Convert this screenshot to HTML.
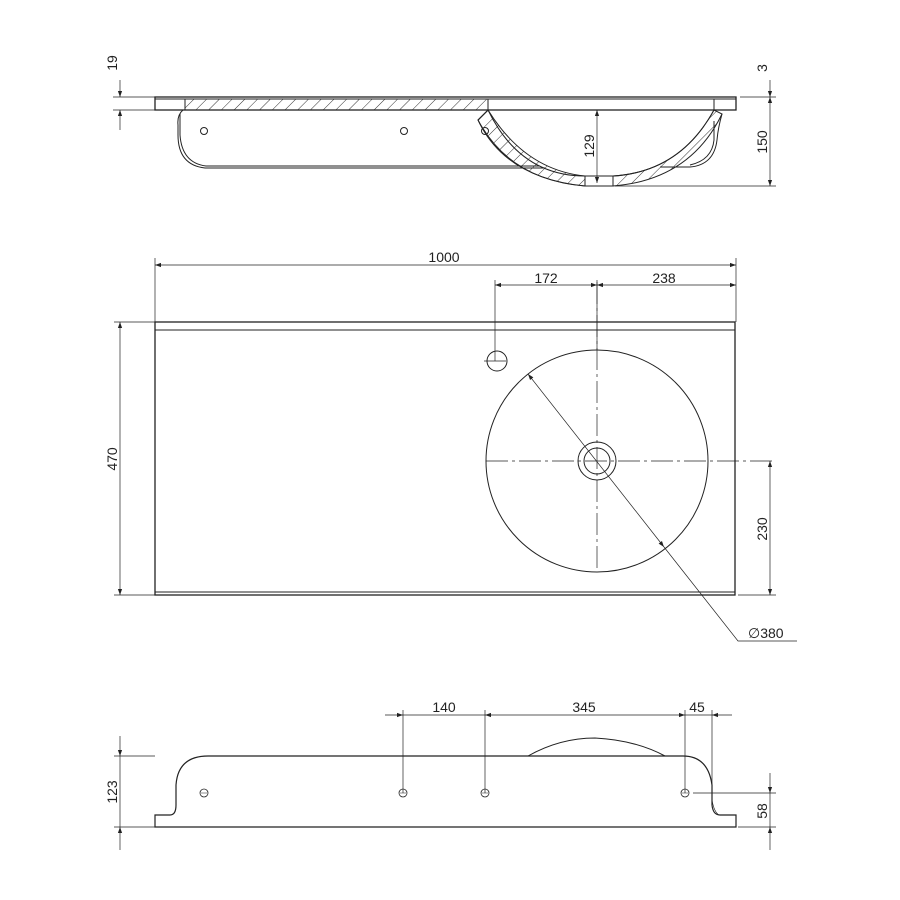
<!DOCTYPE html>
<html><head><meta charset="utf-8"><style>
html,body{margin:0;padding:0;background:#fff}
svg{display:block}
text{font-family:"Liberation Sans","DejaVu Sans",sans-serif;font-size:14px;fill:#222}
</style></head><body>
<svg width="900" height="900" viewBox="0 0 900 900" xmlns="http://www.w3.org/2000/svg">
<defs>
<marker id="a" viewBox="0 0 10 10" refX="10" refY="5" markerWidth="9" markerHeight="6" orient="auto-start-reverse" markerUnits="userSpaceOnUse"><path d="M0,1.5 L10,5 L0,8.5 z" fill="#222"/></marker>
<pattern id="h" width="9" height="9" patternUnits="userSpaceOnUse" patternTransform="rotate(45)"><line x1="0" y1="0" x2="0" y2="9" stroke="#333" stroke-width="1"/></pattern>
</defs>
<g stroke="#222" fill="none" stroke-width="1">
<!-- TOP SECTION VIEW -->
<rect x="155" y="97" width="581" height="13" stroke-width="1.3"/>
<line x1="155" y1="99" x2="736" y2="99"/>
<path d="M185,99 H488 V110 L476,110 L468,110 H185 Z" fill="url(#h)"/>
<line x1="185" y1="99" x2="185" y2="110"/>
<line x1="488" y1="99" x2="488" y2="110"/>
<line x1="714" y1="99" x2="714" y2="110"/>
<!-- bowl section -->
<path d="M488,110 L478,120 Q510,180 585,186" fill="none"/>
<path d="M478,120 Q505,178 585,186 L585,176 Q525,170 488,110 Z" fill="url(#h)"/>
<path d="M613,186 Q690,180 722,114 L714,110 Q680,172 613,176 Z" fill="url(#h)"/>
<rect x="585" y="176" width="28" height="10"/>
<path d="M488,110 Q520,176 585,176"/>
<path d="M613,176 Q680,172 714,110"/>
<!-- skirts -->
<path d="M183,110 Q177,115 178,125 V135 Q178,165 205,168 H545"/>
<path d="M180,114 V135 Q182,163 206,166 H540"/>
<path d="M722,114 Q718,128 717,140 Q714,165 690,167 H660"/>
<path d="M714,121 V140 Q712,160 690,165"/>
<circle cx="204" cy="131" r="3.5"/><circle cx="404" cy="131" r="3.5"/><circle cx="485" cy="131" r="3.5"/>
<!-- top dims -->
<line x1="113" y1="97" x2="155" y2="97" stroke-width="0.7"/>
<line x1="113" y1="110" x2="155" y2="110" stroke-width="0.7"/>
<line x1="120" y1="80" x2="120" y2="97" marker-end="url(#a)" stroke-width="0.7"/>
<line x1="120" y1="130" x2="120" y2="110" marker-end="url(#a)" stroke-width="0.7"/>
<line x1="740" y1="97" x2="776" y2="97" stroke-width="0.7"/>
<line x1="615" y1="186" x2="776" y2="186" stroke-width="0.7"/>
<line x1="770" y1="80" x2="770" y2="97" marker-end="url(#a)" stroke-width="0.7"/>
<line x1="770" y1="97" x2="770" y2="186" marker-start="url(#a)" marker-end="url(#a)" stroke-width="0.7"/>
<line x1="597" y1="110" x2="597" y2="183" marker-start="url(#a)" marker-end="url(#a)" stroke-width="0.7"/>

<!-- PLAN VIEW -->
<rect x="155" y="322" width="580" height="273" stroke-width="1.3"/>
<line x1="155" y1="330" x2="735" y2="330"/>
<line x1="155" y1="592" x2="735" y2="592"/>
<circle cx="597" cy="461" r="111"/>
<circle cx="597" cy="461" r="19"/>
<circle cx="597" cy="461" r="13"/>
<circle cx="497" cy="361" r="10"/>
<g stroke-dasharray="22,4,3,4" stroke-width="0.7">
<line x1="486" y1="461" x2="775" y2="461"/>
<line x1="597" y1="282" x2="597" y2="572"/>
<line x1="484" y1="361" x2="510" y2="361"/>
</g>
<line x1="495" y1="280" x2="495" y2="361" stroke-width="0.7"/>
<line x1="597" y1="280" x2="597" y2="350" stroke-width="0.7"/>
<line x1="155" y1="258" x2="155" y2="322" stroke-width="0.7"/>
<line x1="736" y1="258" x2="736" y2="322" stroke-width="0.7"/>
<line x1="155" y1="265" x2="736" y2="265" marker-start="url(#a)" marker-end="url(#a)" stroke-width="0.7"/>
<line x1="495" y1="285" x2="597" y2="285" marker-start="url(#a)" marker-end="url(#a)" stroke-width="0.7"/>
<line x1="597" y1="285" x2="736" y2="285" marker-start="url(#a)" marker-end="url(#a)" stroke-width="0.7"/>
<line x1="114" y1="322" x2="155" y2="322" stroke-width="0.7"/>
<line x1="114" y1="595" x2="155" y2="595" stroke-width="0.7"/>
<line x1="120" y1="322" x2="120" y2="595" marker-start="url(#a)" marker-end="url(#a)" stroke-width="0.7"/>
<line x1="738" y1="595" x2="776" y2="595" stroke-width="0.7"/>
<line x1="770" y1="461" x2="770" y2="595" marker-start="url(#a)" marker-end="url(#a)" stroke-width="0.7"/>
<line x1="528" y1="374" x2="664" y2="547" marker-start="url(#a)" marker-end="url(#a)" stroke-width="0.7"/>
<polyline points="664,547 738,641 797,641" stroke-width="0.7"/>

<!-- FRONT VIEW -->
<path d="M155,827 V815 H170 Q176,815 176,805 V785 Q178,756 208,756 H683 Q708,756 712,785 V805 Q713,815 720,815 H736 V827 Z" stroke-width="1.2"/>
<path d="M528,756 Q560,738 595,738 Q635,740 665,756"/>
<path d="M712,800 Q714,812 719,815" stroke-width="0.7"/>
<g stroke-width="0.8">
<circle cx="204" cy="793" r="4"/><circle cx="403" cy="793" r="4"/><circle cx="485" cy="793" r="4"/><circle cx="685" cy="793" r="4"/>
</g>
<g stroke-width="0.5">
<line x1="201" y1="793" x2="207" y2="793"/><line x1="400" y1="793" x2="406" y2="793"/><line x1="482" y1="793" x2="488" y2="793"/><line x1="682" y1="793" x2="688" y2="793"/>
</g>
<line x1="403" y1="710" x2="403" y2="793" stroke-width="0.7"/>
<line x1="485" y1="710" x2="485" y2="793" stroke-width="0.7"/>
<line x1="685" y1="710" x2="685" y2="793" stroke-width="0.7"/>
<line x1="712" y1="710" x2="712" y2="790" stroke-width="0.7"/>
<line x1="385" y1="715" x2="403" y2="715" marker-end="url(#a)" stroke-width="0.7"/>
<line x1="403" y1="715" x2="485" y2="715" stroke-width="0.7"/>
<line x1="485" y1="715" x2="685" y2="715" marker-start="url(#a)" marker-end="url(#a)" stroke-width="0.7"/>
<line x1="685" y1="715" x2="712" y2="715" stroke-width="0.7"/>
<line x1="732" y1="715" x2="712" y2="715" marker-end="url(#a)" stroke-width="0.7"/>
<line x1="114" y1="756" x2="155" y2="756" stroke-width="0.7"/>
<line x1="114" y1="827" x2="155" y2="827" stroke-width="0.7"/>
<line x1="120" y1="736" x2="120" y2="756" marker-end="url(#a)" stroke-width="0.7"/>
<line x1="120" y1="756" x2="120" y2="827" stroke-width="0.7"/>
<line x1="120" y1="850" x2="120" y2="827" marker-end="url(#a)" stroke-width="0.7"/>
<line x1="693" y1="793" x2="776" y2="793" stroke-width="0.7"/>
<line x1="738" y1="827" x2="776" y2="827" stroke-width="0.7"/>
<line x1="770" y1="773" x2="770" y2="793" marker-end="url(#a)" stroke-width="0.7"/>
<line x1="770" y1="793" x2="770" y2="827" stroke-width="0.7"/>
<line x1="770" y1="850" x2="770" y2="827" marker-end="url(#a)" stroke-width="0.7"/>
</g>
<!-- text -->
<text transform="translate(117,63) rotate(-90)" text-anchor="middle">19</text>
<text transform="translate(767,68) rotate(-90)" text-anchor="middle">3</text>
<text transform="translate(767,142) rotate(-90)" text-anchor="middle">150</text>
<text transform="translate(594,146) rotate(-90)" text-anchor="middle">129</text>
<text x="444" y="262" text-anchor="middle">1000</text>
<text x="546" y="283" text-anchor="middle">172</text>
<text x="664" y="283" text-anchor="middle">238</text>
<text transform="translate(117,459) rotate(-90)" text-anchor="middle">470</text>
<text transform="translate(767,529) rotate(-90)" text-anchor="middle">230</text>
<text x="748" y="638">∅380</text>
<text x="444" y="712" text-anchor="middle">140</text>
<text x="584" y="712" text-anchor="middle">345</text>
<text x="697" y="712" text-anchor="middle">45</text>
<text transform="translate(117,792) rotate(-90)" text-anchor="middle">123</text>
<text transform="translate(767,811) rotate(-90)" text-anchor="middle">58</text>
</svg>
</body></html>
